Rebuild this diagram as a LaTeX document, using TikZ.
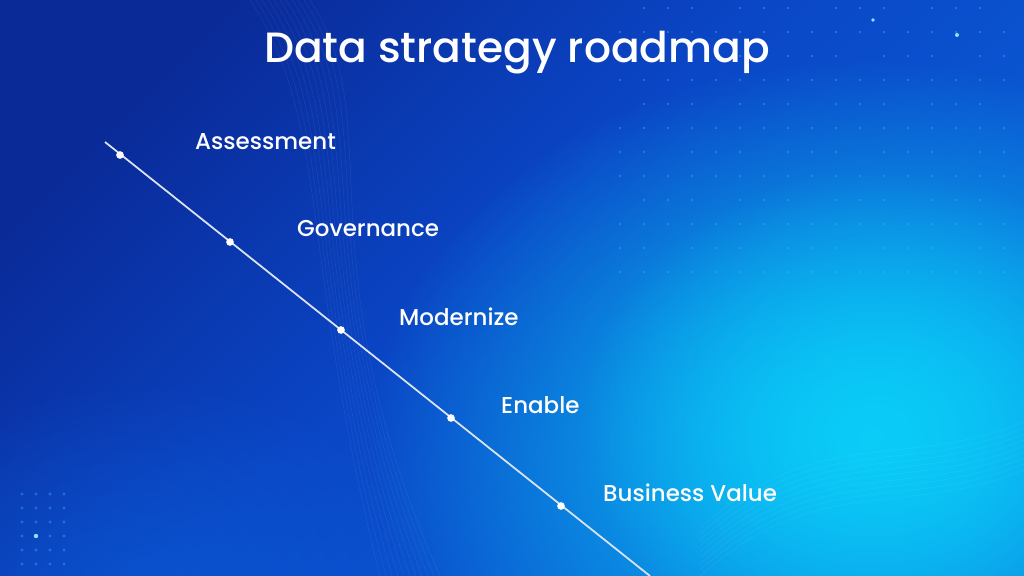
\documentclass[tikz,border=0pt]{standalone}
\usepackage{fontspec}
\setmainfont{Poppins Medium}
\usetikzlibrary{positioning, fadings}

\definecolor{bgdark}{HTML}{0A2A98}
\definecolor{bgmid}{HTML}{0A46C6}
\definecolor{bglight}{HTML}{0A5CD6}
\definecolor{bgcyan}{HTML}{0BCDF8}
\definecolor{roadgray}{HTML}{DCE4F2}
\definecolor{dotblue}{HTML}{45B4F8}

\pgfdeclarehorizontalshading{bgshade}{100bp}{color(0bp)=(bgdark); color(25bp)=(bgdark); color(48bp)=(bgmid); color(72bp)=(bglight); color(100bp)=(bglight)}
\tikzfading[name=glowfade, inner color=transparent!0, outer color=transparent!100]

\tikzset{
  roadline/.style={draw=roadgray, line width=1.5pt},
  milestone/.style={circle, fill=white, inner sep=0pt, minimum size=6.5pt},
  steplabel/.style={text=white, font=\fontsize{19.5}{24}\selectfont, anchor=west, inner sep=0pt},
  titletext/.style={text=white, font=\fontsize{36}{42}\selectfont, inner sep=0pt},
  gridpoint/.style={fill=dotblue, opacity=0.4},
  wave/.style={draw=white, opacity=0.08, line width=0.4pt}
}

\begin{document}
\begin{tikzpicture}[x=0.85pt, y=-0.85pt]
            \useasboundingbox (0,0) rectangle (1024,576);
            % background
            \begin{scope}
                \clip (0,0) rectangle (1024,576);
                \shade[shading=bgshade, shading angle=-45] (0,0) rectangle (1024,576);
                \fill[bglight, path fading=glowfade, opacity=0.6] (150,600) ellipse (300 and 220);
                \fill[bgcyan, path fading=glowfade] (870,440) ellipse (500 and 380);
                \fill[bgcyan, path fading=glowfade, opacity=0.8] (880,420) ellipse (300 and 250);

                % faint waves
                \foreach \k in {0,6,...,60}
                    \draw[wave] (250+\k,0) .. controls (330+\k,120) and (300,260) .. (380+\k,576);
                \foreach \k in {0,6,...,48}
                    \draw[wave] (700,576-\k) .. controls (820,470-\k) and (900,520-\k) .. (1024,470-\k);
            \end{scope}

            % dot grids
            \foreach \i in {0,...,16}
                \foreach \j in {0,...,11}
                {
                    \pgfmathtruncatemacro\keep{mod(\i*7+\j*5+\i*\j,4)}
                    \ifnum\keep>0
                        \fill[gridpoint] (620+\i*24,8+\j*24) circle (1.3);
                    \fi
                }
            \foreach \i in {0,...,3}
                \foreach \j in {0,...,5}
                    \fill[gridpoint] (22+\i*14,494+\j*14) circle (1.6);
            \fill[cyan!40] (36,536) circle (2.2);
            \fill[cyan!40] (957,35) circle (2);
            \fill[cyan!40] (873,20) circle (1.8);

            \node[titletext] (title) at (517,53) {Data strategy roadmap};

            \coordinate (start) at (105,142);
            \coordinate (finish) at (650,576);
            \draw[roadline] (start) -- (finish);

            \foreach \x/\y/\lx/\txt [count=\i] in {120/155/195/Assessment, 230/242/297/Governance,
                341/330/399/Modernize, 451/418/501/Enable, 561/506/603/Business Value}
            {
                \node[milestone] (m\i) at (\x,\y) {};
                \node[steplabel] (s\i) at (\lx,\y-13) {\txt};
            }
        \end{tikzpicture}
\end{document}
